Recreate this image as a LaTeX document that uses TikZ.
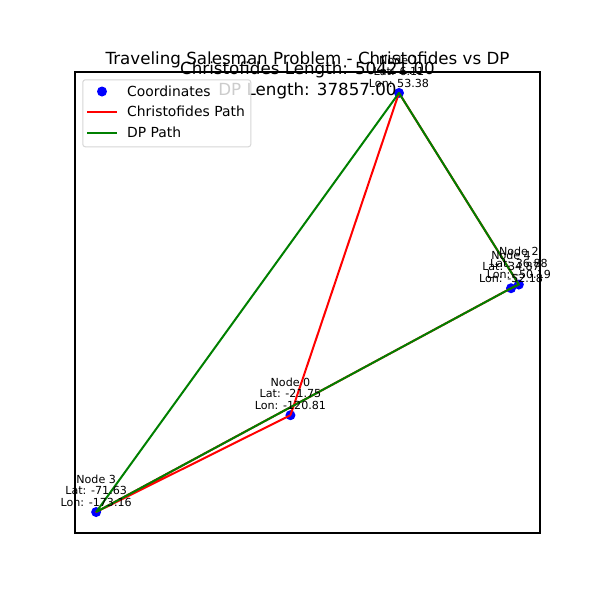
\documentclass[tikz,border=0pt]{standalone}
\usepackage{fontspec}
\setmainfont{DejaVu Sans}
\definecolor{mplgreen}{HTML}{008000}
\definecolor{mplblue}{HTML}{0000FF}
\definecolor{mplred}{HTML}{FF0000}
\definecolor{leggray}{HTML}{CCCCCC}
\begin{document}
\begin{tikzpicture}[x=1pt,y=-1pt,
  pt/.style={circle,fill=mplblue,inner sep=0pt,minimum size=10pt},
  lbl/.style={font=\fontsize{11.1}{11.6}\selectfont,align=center,anchor=south,inner sep=0pt,text depth=0pt},
  ttl/.style={font=\fontsize{16.7}{20}\selectfont,anchor=base,inner sep=0pt},
  legtxt/.style={font=\fontsize{13.9}{16}\selectfont,anchor=west,inner sep=0pt,text depth=0pt},
  chr/.style={draw=mplred,line width=2pt,line join=round},
  dpp/.style={draw=mplgreen,line width=2pt,line join=round},
  legbox/.style={draw=leggray,fill=white,fill opacity=0.8,draw opacity=0.8,line width=1pt,rounded corners=2.5pt,inner sep=0pt,anchor=north west}]
\useasboundingbox (0,0) rectangle (600,600);
\fill[white] (0,0) rectangle (600,600);
\draw[line width=1.1pt] (75,72) rectangle (540,533);
% points
\node[pt] (n0) at (290.45,415.2) {};
\node[pt] (n1) at (398.99,92.95) {};
\node[pt] (n2) at (518.86,284.55) {};
\node[pt] (n3) at (96.14,512.04) {};
\node[pt] (n4) at (511.03,288.23) {};
% Christofides path
\draw[chr] (n0.center) -- (n1.center) -- (n2.center) -- (n4.center) -- (n3.center) -- (n0.center);
% DP path
\draw[dpp] (n3.center) -- (n1.center) -- (n2.center) -- (n4.center) -- (n3.center);
% labels
\node[lbl] (l0) at (290.45,409.7) {Node 0\\Lat: -21.75\\Lon: -120.81};
\node[lbl] (l1) at (398.99,87.45) {Node 1\\Lat: 6.11\\Lon: 53.38};
\node[lbl] (l2) at (518.86,279.05) {Node 2\\Lat: 36.88\\Lon: -50.19};
\node[lbl] (l3) at (96.14,506.54) {Node 3\\Lat: -71.63\\Lon: -173.16};
\node[lbl] (l4) at (511.03,282.73) {Node 4\\Lat: 34.87\\Lon: -52.18};
% titles
\node[ttl] (t1) at (307.5,64.3) {Traveling Salesman Problem - Christofides vs DP};
\node[ttl] (t2) at (307.5,74.5) {Christofides Length: 50421.00};
\node[ttl] (t3) at (307.5,95.3) {DP Length: 37857.00};
% legend
\node[legbox,minimum width=168pt,minimum height=67pt] (leg) at (82.3,79.3) {};
\node[pt] (lg1) at (102,91.5) {};
\coordinate (r1) at (87,111.8);
\coordinate (r2) at (117,111.8);
\draw[chr] (r1) -- (r2);
\coordinate (g1) at (87,132.8);
\coordinate (g2) at (117,132.8);
\draw[dpp] (g1) -- (g2);
\node[legtxt] (lt1) at (127,90.8) {Coordinates};
\node[legtxt] (lt2) at (127,111.3) {Christofides Path};
\node[legtxt] (lt3) at (127,132.3) {DP Path};
\end{tikzpicture}
\end{document}
